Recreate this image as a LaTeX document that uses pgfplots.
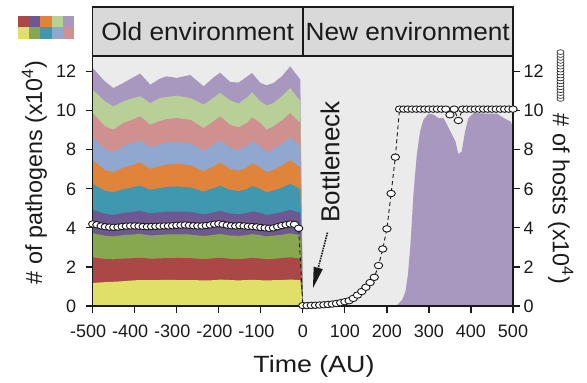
\documentclass[border=0pt]{standalone}
\usepackage{fontspec}
\setmainfont{Liberation Sans}
\usepackage{pgfplots}
\pgfplotsset{compat=1.18}
\usepackage{pgfplotstable}
\usetikzlibrary{arrows.meta}

\definecolor{cyel}{HTML}{E0E068}
\definecolor{cred}{HTML}{AA4848}
\definecolor{cgrn}{HTML}{88A850}
\definecolor{cpur}{HTML}{6E5890}
\definecolor{cteal}{HTML}{4098B0}
\definecolor{cora}{HTML}{E0843C}
\definecolor{cblu}{HTML}{90A8D0}
\definecolor{cpnk}{HTML}{D09090}
\definecolor{clgr}{HTML}{B8D098}
\definecolor{clav}{HTML}{A898C0}
\definecolor{bgc}{HTML}{EBEBEB}
\definecolor{stripc}{HTML}{D9D9D9}
\definecolor{ink}{HTML}{1A1A1A}

\pgfplotstableread{
x b1 b2 b3 b4 b5 b6 b7 b8 b9 b10
-500 1.18 2.49 3.72 4.92 6.25 7.47 8.65 9.88 11.08 12.19
-471 1.22 2.41 3.60 4.72 5.91 6.96 8.04 9.20 10.48 11.50
-451 1.24 2.39 3.56 4.66 5.82 6.84 7.88 9.03 10.22 11.16
-427 1.27 2.43 3.63 4.77 5.99 7.09 8.19 9.37 10.48 11.42
-411 1.30 2.44 3.65 4.80 6.05 7.18 8.30 9.49 10.60 11.62
-387 1.33 2.47 3.69 4.87 6.16 7.35 8.49 9.71 10.74 11.90
-363 1.32 2.42 3.61 4.74 5.95 7.02 8.11 9.28 10.39 11.33
-340 1.33 2.44 3.64 4.80 6.04 7.17 8.28 9.47 10.65 11.64
-324 1.34 2.45 3.66 4.83 6.09 7.24 8.37 9.57 10.70 11.76
-300 1.33 2.46 3.67 4.84 6.12 7.28 8.41 9.62 10.77 11.68
-268 1.33 2.45 3.66 4.82 6.08 7.22 8.34 9.54 10.65 11.83
-236 1.31 2.40 3.58 4.69 5.86 6.90 7.95 9.11 10.31 11.25
-213 1.32 2.44 3.64 4.79 6.03 7.15 8.26 9.45 10.65 11.69
-197 1.35 2.47 3.69 4.87 6.16 7.35 8.49 9.71 10.91 11.95
-173 1.33 2.42 3.61 4.74 5.95 7.02 8.11 9.28 10.53 11.47
-153 1.31 2.40 3.59 4.70 5.88 6.93 7.99 9.15 10.36 11.44
-133 1.33 2.43 3.63 4.77 5.99 7.09 8.19 9.37 10.68 11.74
-121 1.34 2.47 3.68 4.85 6.14 7.31 8.45 9.66 10.94 11.93
-101 1.32 2.43 3.63 4.77 5.99 7.09 8.19 9.37 10.48 11.42
-86 1.31 2.39 3.56 4.66 5.82 6.84 7.88 9.03 10.26 11.30
-70 1.32 2.41 3.60 4.72 5.91 6.96 8.04 9.20 10.39 11.42
-50 1.33 2.45 3.65 4.81 6.06 7.19 8.31 9.50 10.74 11.76
-30 1.35 2.49 3.72 4.92 6.25 7.47 8.65 9.88 11.16 12.27
-18 1.34 2.46 3.67 4.84 6.12 7.28 8.41 9.62 10.82 11.93
-6 1.32 2.43 3.63 4.77 5.99 7.09 8.19 9.37 10.48 11.59
0 0 0 0 0 0 0 0 0 0 0
}\oldenv

\begin{document}
\begin{tikzpicture}
\begin{axis}[
  at={(0pt,0pt)}, anchor=south west, scale only axis,
  width=420.3pt, height=250pt,
  xmin=-500, xmax=500, ymin=0, ymax=12.8,
  axis background/.style={fill=bgc},
  axis on top,
  axis line style={line width=1.3pt, ink},
  tick style={line width=1.2pt, ink},
  tick align=outside, major tick length=7pt,
  xtick={-500,-400,-300,-200,-100,0,100,200,300,400,500},
  xticklabels={{-500\hspace*{9pt}},{-400\hspace*{9pt}},{-300\hspace*{9pt}},{-200\hspace*{9pt}},{-100\hspace*{9pt}},0,100,200,300,400,500},
  ytick={0,2,4,6,8,10,12},
  yticklabels={0,2,4,6,8,10,12},
  xtick pos=bottom, ytick pos=left,
  tick label style={font=\fontsize{18}{20}\selectfont, text=ink},
  xticklabel style={yshift=-8pt},
  yticklabel style={xshift=-6pt},
]
\addplot[fill=clav, draw=none] table[x=x,y=b10]{\oldenv} \closedcycle;
\addplot[fill=clgr, draw=none] table[x=x,y=b9]{\oldenv} \closedcycle;
\addplot[fill=cpnk, draw=none] table[x=x,y=b8]{\oldenv} \closedcycle;
\addplot[fill=cblu, draw=none] table[x=x,y=b7]{\oldenv} \closedcycle;
\addplot[fill=cora, draw=none] table[x=x,y=b6]{\oldenv} \closedcycle;
\addplot[fill=cteal, draw=none] table[x=x,y=b5]{\oldenv} \closedcycle;
\addplot[fill=cpur, draw=none] table[x=x,y=b4]{\oldenv} \closedcycle;
\addplot[fill=cgrn, draw=none] table[x=x,y=b3]{\oldenv} \closedcycle;
\addplot[fill=cred, draw=none] table[x=x,y=b2]{\oldenv} \closedcycle;
\addplot[fill=cyel, draw=none] table[x=x,y=b1]{\oldenv} \closedcycle;
\addplot[fill=clav, draw=none] coordinates {
(0,0) (100,0.01) (200,0.02) (224,0.05) (236,0.3) (244,0.73) (250,1.6) (256,3.13)
(263,5.69) (271,7.74) (279,8.94) (287,9.54) (299,9.85) (311,9.8) (323,9.62)
(335,9.62) (343,9.28) (355,8.77) (363,8.43) (370,7.78) (378,7.91) (386,8.94)
(394,9.62) (406,9.88) (438,9.85) (462,9.85) (478,9.62) (494,9.45) (500,9.2)
} \closedcycle;
\node[rotate=90, font=\fontsize{26}{28}\selectfont, text=ink] at (axis cs:65,7.38) {Bottleneck};
\draw[ink, densely dotted, line width=1.6pt, -{Triangle[length=21pt,width=9pt]}] (axis cs:58.6,3.76) -- (axis cs:24,0.91);
\end{axis}
\begin{axis}[
  at={(0pt,0pt)}, anchor=south west, scale only axis,
  width=420.3pt, height=250pt,
  xmin=-500, xmax=500, ymin=0, ymax=12.8,
  axis x line=none, axis y line*=right,
  axis line style={line width=1.3pt, ink},
  tick style={line width=1.2pt, ink},
  tick align=outside, major tick length=7pt,
  ytick={0,2,4,6,8,10,12},
  yticklabels={0,2,4,6,8,10,12},
  tick label style={font=\fontsize{18}{20}\selectfont, text=ink},
  clip=false,
]
\addplot[ink, line width=0.9pt, dash pattern=on 4pt off 3pt, mark=*, mark size=3.5pt,
  mark options={solid, fill=white, draw=ink, line width=0.9pt, xscale=1.2, yscale=0.92}] coordinates {
(-500,4.20) (-490,4.16) (-480,4.10) (-470,4.06) (-460,4.04) (-450,4.03) (-440,4.04)
(-430,4.07) (-420,4.09) (-410,4.10) (-400,4.10) (-390,4.09) (-380,4.07) (-370,4.06)
(-360,4.07) (-350,4.08) (-340,4.09) (-330,4.10) (-320,4.10) (-310,4.11) (-300,4.13)
(-290,4.14) (-280,4.15) (-270,4.13) (-260,4.11) (-250,4.10) (-240,4.10) (-230,4.12)
(-220,4.15) (-210,4.19) (-200,4.21) (-190,4.18) (-180,4.14) (-170,4.11) (-160,4.10)
(-150,4.12) (-140,4.10) (-130,4.08) (-120,4.07) (-110,4.05) (-100,4.02) (-90,4.00)
(-80,3.98) (-70,4.00) (-60,4.06) (-50,4.12) (-40,4.16) (-30,4.20) (-20,4.18) (-10,3.98)
(0,0.02) (10,0.02) (20,0.03) (30,0.04) (40,0.05) (50,0.06) (60,0.08) (70,0.10)
(80,0.13) (90,0.17) (100,0.22) (110,0.27) (120,0.39) (130,0.56) (140,0.74) (150,0.96)
(160,1.20) (170,1.47) (180,2.07) (190,2.92) (200,3.95) (210,5.76) (220,7.62) (230,10.08)
(240,10.08) (250,10.08) (260,10.08) (270,10.08) (280,10.08) (290,10.08) (300,10.08)
(310,10.08) (320,10.08) (330,10.08) (340,10.08) (350,9.79) (360,10.08) (370,9.50)
(380,10.08) (390,10.08) (400,10.08) (410,10.08) (420,10.08) (430,10.08) (440,10.08)
(450,10.08) (460,10.08) (470,10.08) (480,10.08) (490,10.08) (500,10.08)
};
\addplot[only marks, mark=*, mark size=3pt, forget plot,
  mark options={fill=white, draw=ink, line width=0.6pt, xscale=1.2, yscale=0.8}] coordinates {
(613,10.60) (613,10.75) (613,10.90) (613,11.05) (613,11.20) (613,11.35) (613,11.50)
(613,11.65) (613,11.80) (613,11.95) (613,12.10) (613,12.25) (613,12.40) (613,12.55)
(613,12.70) (613,12.85) (613,13.00)
};
\end{axis}
% facet strip
\draw[fill=stripc, draw=ink, line width=1.3pt] (0pt,250pt) rectangle (420.3pt,299pt);
\draw[line width=1.3pt, draw=ink] (210.15pt,250pt) -- (210.15pt,299pt);
\node[font=\fontsize{25}{27}\selectfont, text=ink, xscale=1.05] at (105pt,274.5pt) {Old environment};
\node[font=\fontsize{25}{27}\selectfont, text=ink, xscale=1.05] at (315pt,274.5pt) {New environment};
% colour key
\fill[cred]  (-74.7pt,278.8pt) rectangle ++(11.2pt,11.5pt);
\fill[cpur]  (-63.5pt,278.8pt) rectangle ++(11.2pt,11.5pt);
\fill[cora]  (-52.3pt,278.8pt) rectangle ++(11.2pt,11.5pt);
\fill[clgr]  (-41.1pt,278.8pt) rectangle ++(11.2pt,11.5pt);
\fill[clav]  (-29.9pt,278.8pt) rectangle ++(11.2pt,11.5pt);
\fill[cyel]  (-74.7pt,267.3pt) rectangle ++(11.2pt,11.5pt);
\fill[cgrn]  (-63.5pt,267.3pt) rectangle ++(11.2pt,11.5pt);
\fill[cteal] (-52.3pt,267.3pt) rectangle ++(11.2pt,11.5pt);
\fill[cblu]  (-41.1pt,267.3pt) rectangle ++(11.2pt,11.5pt);
\fill[cpnk]  (-29.9pt,267.3pt) rectangle ++(11.2pt,11.5pt);
% axis titles
\node[font=\fontsize{23.5}{26}\selectfont, text=ink, xscale=1.14] at (221.3pt,-60pt) {Time (AU)};
\node[rotate=90, font=\fontsize{23.3}{26}\selectfont, text=ink] at (-58.2pt,133.5pt) {\# of pathogens (x10\textsuperscript{4})};
\node[rotate=-90, font=\fontsize{23.3}{26}\selectfont, text=ink] at (468pt,107pt) {\# of hosts (x10\textsuperscript{4})};
\pgfresetboundingbox
\path (-92.7pt,-77pt) rectangle (494.3pt,306pt);
\end{tikzpicture}
\end{document}
